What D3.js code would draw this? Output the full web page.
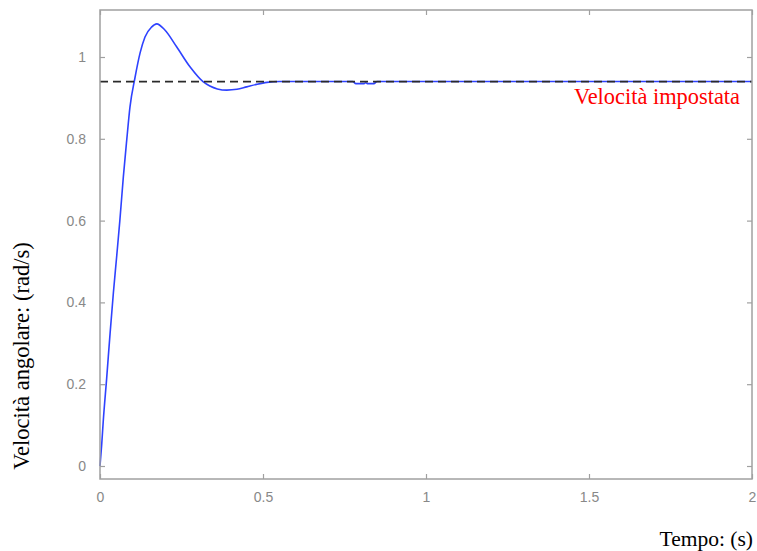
<!DOCTYPE html>
<html><head><meta charset="utf-8">
<script src="https://cdn.jsdelivr.net/npm/d3@7/dist/d3.min.js"></script>
<style>body{margin:0;background:#fff}svg{display:block}</style>
</head><body><svg id="c" width="757" height="551"></svg>
<script>
// Data
const timeS = [0, 0.005, 0.010, 0.0205, 0.031, 0.041, 0.051, 0.061, 0.0716, 0.082, 0.092, 0.107, 0.123, 0.138, 0.158, 0.174, 0.199, 0.235, 0.276, 0.317, 0.337, 0.36, 0.389, 0.42, 0.45, 0.48, 0.512, 0.55, 0.6, 0.7, 0.775, 0.785, 0.81, 0.815, 0.82, 0.84, 0.85, 0.9, 1.0, 1.5, 2.0];
const speed = [0, 0.05, 0.11, 0.215, 0.325, 0.423, 0.511, 0.601, 0.707, 0.797, 0.878, 0.948, 1.01, 1.049, 1.073, 1.081, 1.066, 1.025, 0.976, 0.939, 0.929, 0.922, 0.919, 0.921, 0.927, 0.933, 0.938, 0.940, 0.940, 0.940, 0.940, 0.935, 0.935, 0.937, 0.935, 0.935, 0.940, 0.940, 0.940, 0.940, 0.940];
const setpoint = 0.94;
const xTicks = [0, 0.5, 1, 1.5, 2];
const xTickLabels = ["0", "0.5", "1", "1.5", "2"];
const yTicks = [0, 0.2, 0.4, 0.6, 0.8, 1];
const yTickLabels = ["0", "0.2", "0.4", "0.6", "0.8", "1"];

const svg = d3.select("#c");
const L = 100, R = 752, T = 10, B = 479;
const x = d3.scaleLinear().domain([0, 2]).range([L, R]);
const y0 = 466, y1 = 57;
const y = d3.scaleLinear().domain([0, 1]).range([y0, y1]);

const frameCol = "#a0a0a0", labCol = "#888";

// curve
const line = d3.line().x((d, i) => x(timeS[i])).y((d, i) => y(speed[i])).curve(d3.curveMonotoneX);
svg.append("path").attr("d", line(speed)).attr("fill", "none").attr("stroke", "#2e42ff").attr("stroke-width", 1.6);

// setpoint dashed
svg.append("line").attr("x1", x(0)).attr("x2", x(2)).attr("y1", y(setpoint)).attr("y2", y(setpoint))
  .attr("stroke", "#2a2a2a").attr("stroke-width", 1.7).attr("stroke-dasharray", "8,5");

// frame
svg.append("rect").attr("x", L).attr("y", T).attr("width", R - L).attr("height", B - T)
  .attr("fill", "none").attr("stroke", frameCol).attr("stroke-width", 1.5);

// axes
const gx = svg.append("g").attr("transform", `translate(0,${B})`)
  .call(d3.axisBottom(x).tickValues(xTicks).tickFormat((d, i) => xTickLabels[i]).tickSizeInner(-5).tickSizeOuter(0).tickPadding(13));
const gxt = svg.append("g").attr("transform", `translate(0,${T})`)
  .call(d3.axisTop(x).tickValues(xTicks).tickFormat("").tickSizeInner(-5).tickSizeOuter(0));
const gy = svg.append("g").attr("transform", `translate(${L},0)`)
  .call(d3.axisLeft(y).tickValues(yTicks).tickFormat((d, i) => yTickLabels[i]).tickSizeInner(-5).tickSizeOuter(0).tickPadding(14));
const gyr = svg.append("g").attr("transform", `translate(${R},0)`)
  .call(d3.axisRight(y).tickValues(yTicks).tickFormat("").tickSizeInner(-5).tickSizeOuter(0));
[gx, gxt, gy, gyr].forEach(g => {
  g.select(".domain").remove();
  g.selectAll(".tick line").attr("stroke", frameCol).attr("stroke-width", 1.2);
  g.selectAll(".tick text").attr("fill", labCol).attr("font-family", "Liberation Sans, Arial, sans-serif").attr("font-size", 14);
});

// labels
const serif = "Liberation Serif, Times New Roman, serif";
svg.append("text").attr("x", 740).attr("y", 104).attr("text-anchor", "end")
  .attr("font-family", serif).attr("font-size", 22.4).attr("fill", "#ff0000")
  .text("Velocità impostata");
svg.append("text").attr("x", 753).attr("y", 546).attr("text-anchor", "end")
  .attr("font-family", serif).attr("font-size", 21.5).attr("fill", "#000")
  .text("Tempo: (s)");
svg.append("text").attr("transform", "translate(29,356) rotate(-90)").attr("text-anchor", "middle")
  .attr("font-family", serif).attr("font-size", 22.5).attr("fill", "#000")
  .text("Velocità angolare: (rad/s)");
</script></body></html>
